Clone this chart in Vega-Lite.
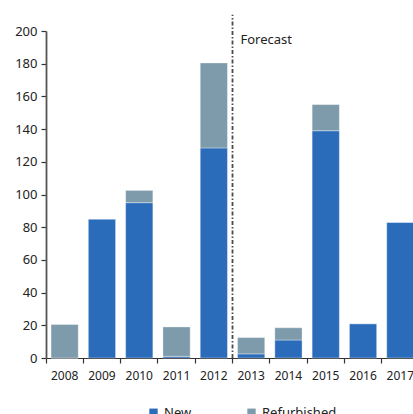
{
  "$schema": "https://vega.github.io/schema/vega-lite/v6.json",
  "autosize": "none",
  "padding": {"left": 46, "top": 31, "right": 0, "bottom": 56},
  "width": 373,
  "height": 327,
  "config": {
    "font": "Noto Sans",
    "view": {"stroke": null},
    "axis": {"labelFont": "Noto Sans", "labelColor": "#222222", "grid": false, "title": null, "labelOverlap": false}
  },
  "datasets": {
    "bars": [
      {"year": "2008", "type": "New", "value": 0},
      {"year": "2008", "type": "Refurbished", "value": 20.5},
      {"year": "2009", "type": "New", "value": 85},
      {"year": "2009", "type": "Refurbished", "value": 0},
      {"year": "2010", "type": "New", "value": 95},
      {"year": "2010", "type": "Refurbished", "value": 7.5},
      {"year": "2011", "type": "New", "value": 1},
      {"year": "2011", "type": "Refurbished", "value": 18},
      {"year": "2012", "type": "New", "value": 128.5},
      {"year": "2012", "type": "Refurbished", "value": 52},
      {"year": "2013", "type": "New", "value": 2.5},
      {"year": "2013", "type": "Refurbished", "value": 10},
      {"year": "2014", "type": "New", "value": 11},
      {"year": "2014", "type": "Refurbished", "value": 7.5},
      {"year": "2015", "type": "New", "value": 139},
      {"year": "2015", "type": "Refurbished", "value": 16},
      {"year": "2016", "type": "New", "value": 21},
      {"year": "2016", "type": "Refurbished", "value": 0},
      {"year": "2017", "type": "New", "value": 83},
      {"year": "2017", "type": "Refurbished", "value": 0}
    ],
    "marker": [{"year": "2013", "y0": 0, "y1": 210, "label": "Forecast", "ly": 194.5}]
  },
  "layer": [
    {
      "data": {"name": "bars"},
      "mark": {"type": "bar", "width": {"band": 0.73}, "stroke": "#ffffff", "strokeWidth": 0.6, "strokeOpacity": 0.6},
      "encoding": {
        "x": {
          "field": "year", "type": "ordinal",
          "scale": {"paddingInner": 0, "paddingOuter": 0},
          "axis": {"labelAngle": 0, "bandPosition": 0, "labelFontSize": 12, "tickSize": 5, "tickColor": "#333333", "tickWidth": 1.2, "domainColor": "#333333", "domainWidth": 1.2, "labelPadding": 7, "labelFlush": false}
        },
        "y": {
          "field": "value", "type": "quantitative", "stack": "zero",
          "scale": {"domain": [0, 200], "nice": false},
          "axis": {"values": [0, 20, 40, 60, 80, 100, 120, 140, 160, 180, 200], "labelOverlap": false, "labelFontSize": 13, "tickSize": 5, "tickColor": "#333333", "tickWidth": 1.2, "domainColor": "#555555", "domainWidth": 1.8, "labelPadding": 4}
        },
        "color": {
          "field": "type", "type": "nominal",
          "scale": {"domain": ["New", "Refurbished"], "range": ["#2B6CBA", "#7E9BAB"]},
          "legend": {"title": null, "orient": "none", "legendX": 101, "legendY": 375, "direction": "horizontal", "symbolType": "square", "symbolSize": 70, "symbolStrokeWidth": 0, "labelFontSize": 13, "labelColor": "#222222", "labelOffset": 4, "columnPadding": 53}
        },
        "order": {"field": "type", "sort": "ascending"}
      }
    },
    {
      "data": {"name": "marker"},
      "mark": {"type": "rule", "color": "#4a4a4a", "strokeWidth": 1.8, "strokeDash": [4, 2, 1.5, 2]},
      "encoding": {
        "x": {"field": "year", "type": "ordinal", "bandPosition": 0,
          "axis": {"labelAngle": 0, "bandPosition": 0, "labelFontSize": 12, "tickSize": 5, "tickColor": "#333333", "tickWidth": 1.2, "domainColor": "#333333", "domainWidth": 1.2, "labelPadding": 7, "labelFlush": false}},
        "y": {"field": "y0", "type": "quantitative",
          "axis": {"values": [0, 20, 40, 60, 80, 100, 120, 140, 160, 180, 200], "labelOverlap": false, "labelFontSize": 13, "tickSize": 5, "tickColor": "#333333", "tickWidth": 1.2, "domainColor": "#555555", "domainWidth": 1.8, "labelPadding": 4}},
        "y2": {"field": "y1"}
      }
    },
    {
      "data": {"name": "marker"},
      "mark": {"type": "text", "align": "left", "baseline": "middle", "dx": 8, "fontSize": 13, "color": "#222222"},
      "encoding": {
        "x": {"field": "year", "type": "ordinal", "bandPosition": 0,
          "axis": {"labelAngle": 0, "bandPosition": 0, "labelFontSize": 12, "tickSize": 5, "tickColor": "#333333", "tickWidth": 1.2, "domainColor": "#333333", "domainWidth": 1.2, "labelPadding": 7, "labelFlush": false}},
        "y": {"field": "ly", "type": "quantitative",
          "axis": {"values": [0, 20, 40, 60, 80, 100, 120, 140, 160, 180, 200], "labelOverlap": false, "labelFontSize": 13, "tickSize": 5, "tickColor": "#333333", "tickWidth": 1.2, "domainColor": "#555555", "domainWidth": 1.8, "labelPadding": 4}},
        "text": {"field": "label"}
      }
    }
  ]
}
